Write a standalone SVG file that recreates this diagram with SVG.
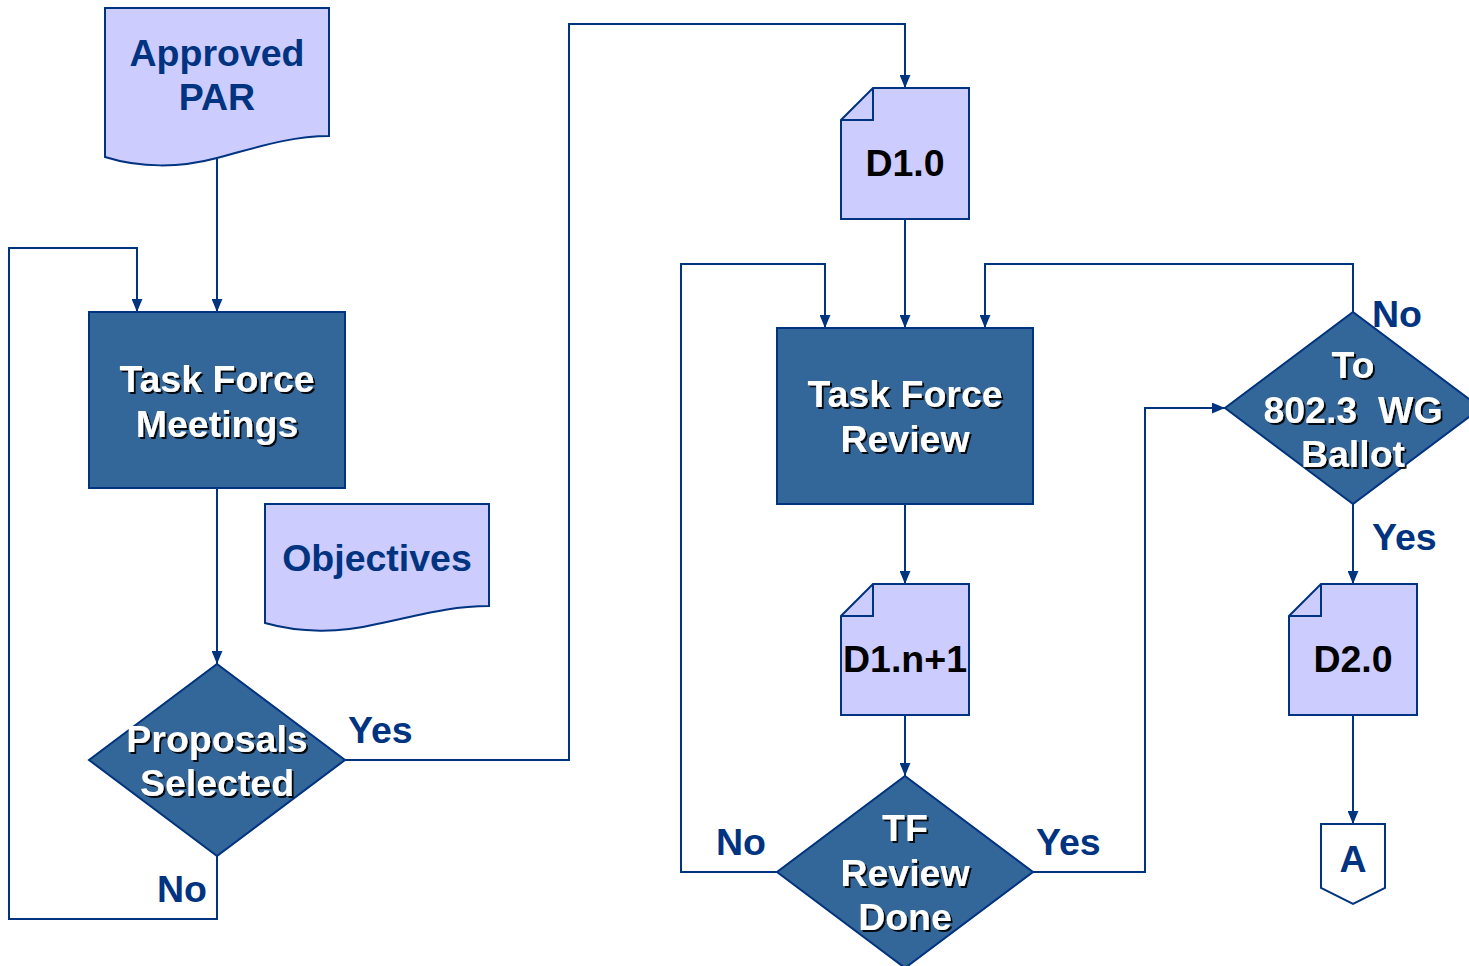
<svg xmlns="http://www.w3.org/2000/svg" width="1469" height="966" viewBox="0 0 1469 966">
<defs>
<marker id="arr" viewBox="0 0 12 10" refX="12" refY="5" markerWidth="13" markerHeight="11" markerUnits="userSpaceOnUse" orient="auto">
<path d="M0,0 L12,5 L0,10 Z" fill="#003380"/>
</marker>
<filter id="sh" x="-10%" y="-10%" width="120%" height="130%">
<feDropShadow dx="2" dy="2" stdDeviation="0.6" flood-color="#000000" flood-opacity="0.9"/>
</filter>
<style>
.doc{fill:#CCCCFF;stroke:#003380;stroke-width:2}
.proc{fill:#336699;stroke:#003380;stroke-width:2}
.fold{fill:none;stroke:#003380;stroke-width:2}
.conn path{fill:none;stroke:#003380;stroke-width:2}
text{font-family:"Liberation Sans",Arial,sans-serif;font-weight:bold;font-size:37.5px;text-anchor:middle}
.nv{fill:#003380}
.wt{fill:#FFFFFF;filter:url(#sh)}
.bk{fill:#000000}
.lbl{fill:#003380;text-anchor:start}
</style>
</defs>
<rect width="1469" height="966" fill="#FFFFFF"/>

<g class="conn" id="connectors">
<path d="M217,159 V312" marker-end="url(#arr)"/>
<path d="M217,488 V664" marker-end="url(#arr)"/>
<path d="M217,856 V919 H9 V248 H137 V312" marker-end="url(#arr)"/>
<path d="M345,760 H569 V24 H905 V88" marker-end="url(#arr)"/>
<path d="M905,219 V328" marker-end="url(#arr)"/>
<path d="M905,504 V584" marker-end="url(#arr)"/>
<path d="M905,715 V776" marker-end="url(#arr)"/>
<path d="M777,872 H681 V264 H825 V328" marker-end="url(#arr)"/>
<path d="M1033,872 H1145 V408 H1225" marker-end="url(#arr)"/>
<path d="M1353,312 V264 H985 V328" marker-end="url(#arr)"/>
<path d="M1353,504 V584" marker-end="url(#arr)"/>
<path d="M1353,715 V824" marker-end="url(#arr)"/>
</g>

<g id="approved-par">
<path class="doc" d="M105,8 H329 V136 C290,136 255,148 217,158 C180,168 140,168 105,157 Z"/>
<text class="nv" x="217" y="66">Approved</text>
<text class="nv" x="217" y="110">PAR</text>
</g>

<g id="tf-meetings">
<rect class="proc" x="89" y="312" width="256" height="176"/>
<text class="wt" x="217" y="392">Task Force</text>
<text class="wt" x="217" y="437">Meetings</text>
</g>

<g id="objectives">
<path class="doc" d="M265,504 H489 V606 C450,606 420,615 377,624 C340,633 300,633 265,623 Z"/>
<text class="nv" x="377" y="571">Objectives</text>
</g>

<g id="proposals-selected">
<path class="proc" d="M217,664 L345,760 L217,856 L89,760 Z"/>
<text class="wt" x="217" y="752">Proposals</text>
<text class="wt" x="217" y="796">Selected</text>
</g>
<g id="labels-ps">
<text class="lbl" x="348" y="743">Yes</text>
<text class="lbl" x="157" y="902">No</text>
</g>

<g id="d1-0">
<path class="doc" d="M873,88 H969 V219 H841 V120 Z"/>
<path class="fold" d="M873,88 V120 H841"/>
<text class="bk" x="905" y="176">D1.0</text>
</g>

<g id="tf-review">
<rect class="proc" x="777" y="328" width="256" height="176"/>
<text class="wt" x="905" y="407">Task Force</text>
<text class="wt" x="905" y="452">Review</text>
</g>

<g id="d1-n1">
<path class="doc" d="M873,584 H969 V715 H841 V616 Z"/>
<path class="fold" d="M873,584 V616 H841"/>
<text class="bk" x="905" y="672">D1.n+1</text>
</g>

<g id="tf-review-done">
<path class="proc" d="M905,776 L1033,872 L905,968 L777,872 Z"/>
<text class="wt" x="905" y="841">TF</text>
<text class="wt" x="905" y="886">Review</text>
<text class="wt" x="905" y="930">Done</text>
</g>
<g id="labels-trd">
<text class="lbl" x="716" y="855">No</text>
<text class="lbl" x="1036" y="855">Yes</text>
</g>

<g id="wg-ballot">
<path class="proc" d="M1353,312 L1481,408 L1353,504 L1225,408 Z"/>
<text class="wt" x="1353" y="378">To</text>
<text class="wt" x="1353" y="423" xml:space="preserve">802.3  WG</text>
<text class="wt" x="1353" y="467">Ballot</text>
</g>
<g id="labels-wg">
<text class="lbl" x="1372" y="327">No</text>
<text class="lbl" x="1372" y="550">Yes</text>
</g>

<g id="d2-0">
<path class="doc" d="M1321,584 H1417 V715 H1289 V616 Z"/>
<path class="fold" d="M1321,584 V616 H1289"/>
<text class="bk" x="1353" y="672">D2.0</text>
</g>

<g id="connector-a">
<path d="M1321,824 H1385 V888 L1353,904 L1321,888 Z" fill="#FFFFFF" stroke="#003380" stroke-width="2"/>
<text class="nv" x="1353" y="872">A</text>
</g>
</svg>
